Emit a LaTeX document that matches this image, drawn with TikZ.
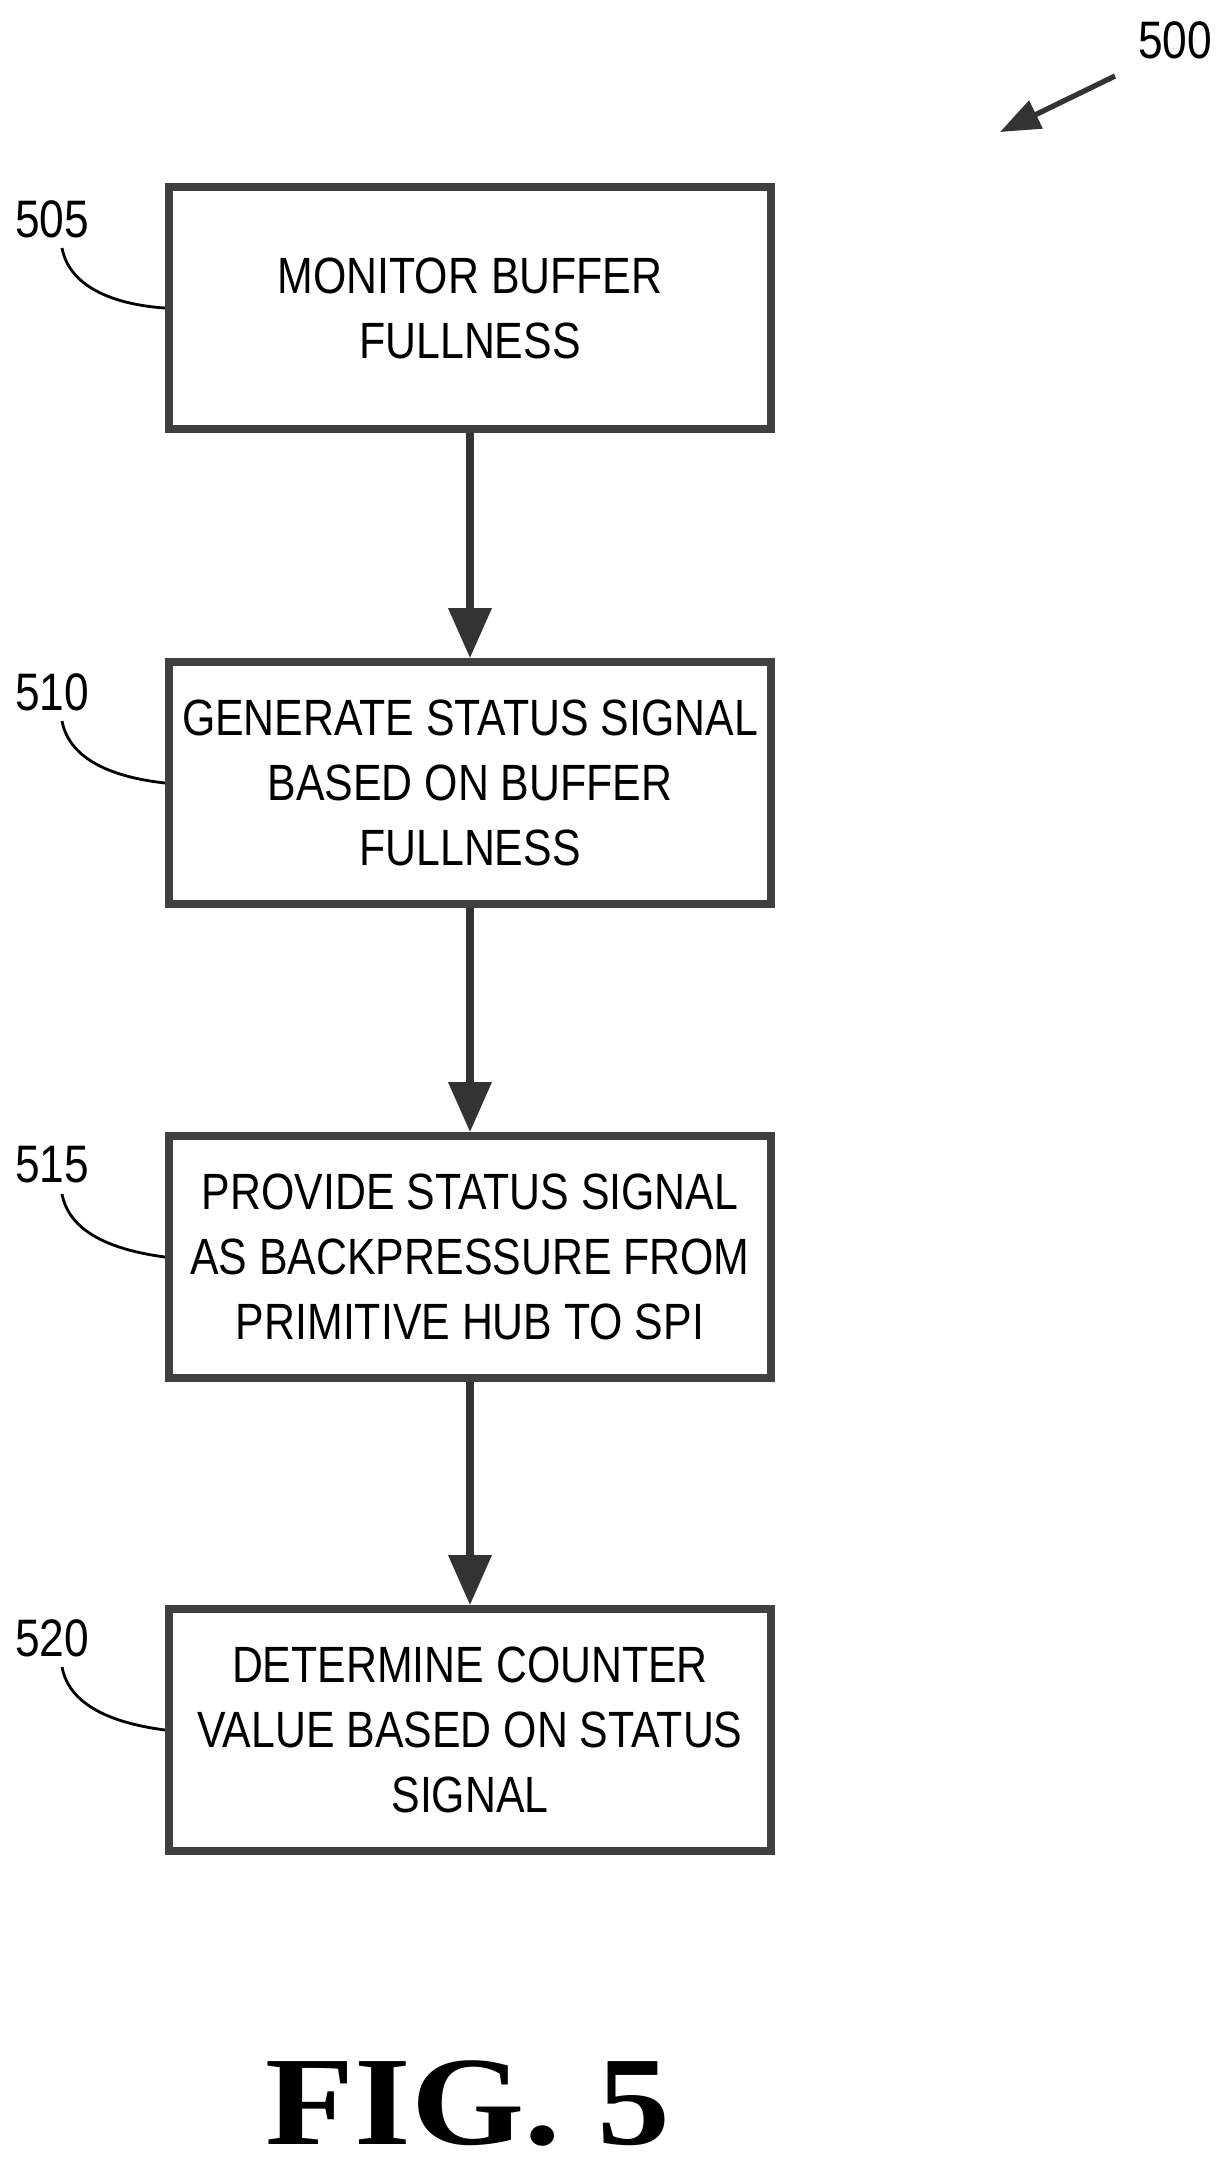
\documentclass[tikz,border=0pt]{standalone}
\usepackage{fontspec}
\setmainfont{Liberation Sans}
\newfontfamily\narrowfont[FakeStretch=0.84]{Liberation Sans}
\newfontfamily\figfont[FakeStretch=1.15]{Liberation Serif}
\usetikzlibrary{arrows.meta}
\begin{document}
\begin{tikzpicture}[x=0.01cm,y=-0.01cm,
  box/.style={draw=black!75,line width=2.2pt,minimum width=6.02cm,minimum height=2.42cm,align=center,font=\narrowfont\fontsize{14.5}{18.5}\selectfont,inner sep=0pt},
  flow/.style={draw=black!80,line width=2pt,-{Triangle[length=0.5cm,width=0.42cm]}},
  lead/.style={draw=black,line width=0.8pt},
  lbl/.style={font=\narrowfont\fontsize{15}{18}\selectfont,inner sep=1pt}]
\useasboundingbox (0,0) rectangle (1226,2168);
\node[box] (b1) at (470,308) {MONITOR BUFFER\\FULLNESS};
\node[box] (b2) at (470,783) {GENERATE STATUS SIGNAL\\BASED ON BUFFER\\FULLNESS};
\node[box] (b3) at (470,1257) {PROVIDE STATUS SIGNAL\\AS BACKPRESSURE FROM\\PRIMITIVE HUB TO SPI};
\node[box] (b4) at (470,1730) {DETERMINE COUNTER\\VALUE BASED ON STATUS\\SIGNAL};
\draw[flow] (b1) -- (b2);
\draw[flow] (b2) -- (b3);
\draw[flow] (b3) -- (b4);
\node[lbl] (l1) at (52,219) {505};
\node[lbl] (l2) at (52,692) {510};
\node[lbl] (l3) at (52,1165) {515};
\node[lbl] (l4) at (52,1638) {520};
\draw[lead] (62,248) .. controls (70,290) and (120,305) .. (b1.west);
\draw[lead] (62,721) .. controls (70,763) and (120,778) .. (b2.west);
\draw[lead] (62,1194) .. controls (70,1236) and (120,1251) .. (b3.west);
\draw[lead] (62,1667) .. controls (70,1709) and (120,1724) .. (b4.west);
\node[lbl] (n500) at (1175,40) {500};
\coordinate (a500) at (1000,132);
\draw[draw=black!80,line width=1.5pt,-{Triangle[length=0.4cm,width=0.3cm]}] (1115,76) -- (a500);
\node[font=\figfont\bfseries\fontsize{36}{40}\selectfont] (fig) at (468,2103) {FIG. 5};
\end{tikzpicture}
\end{document}
